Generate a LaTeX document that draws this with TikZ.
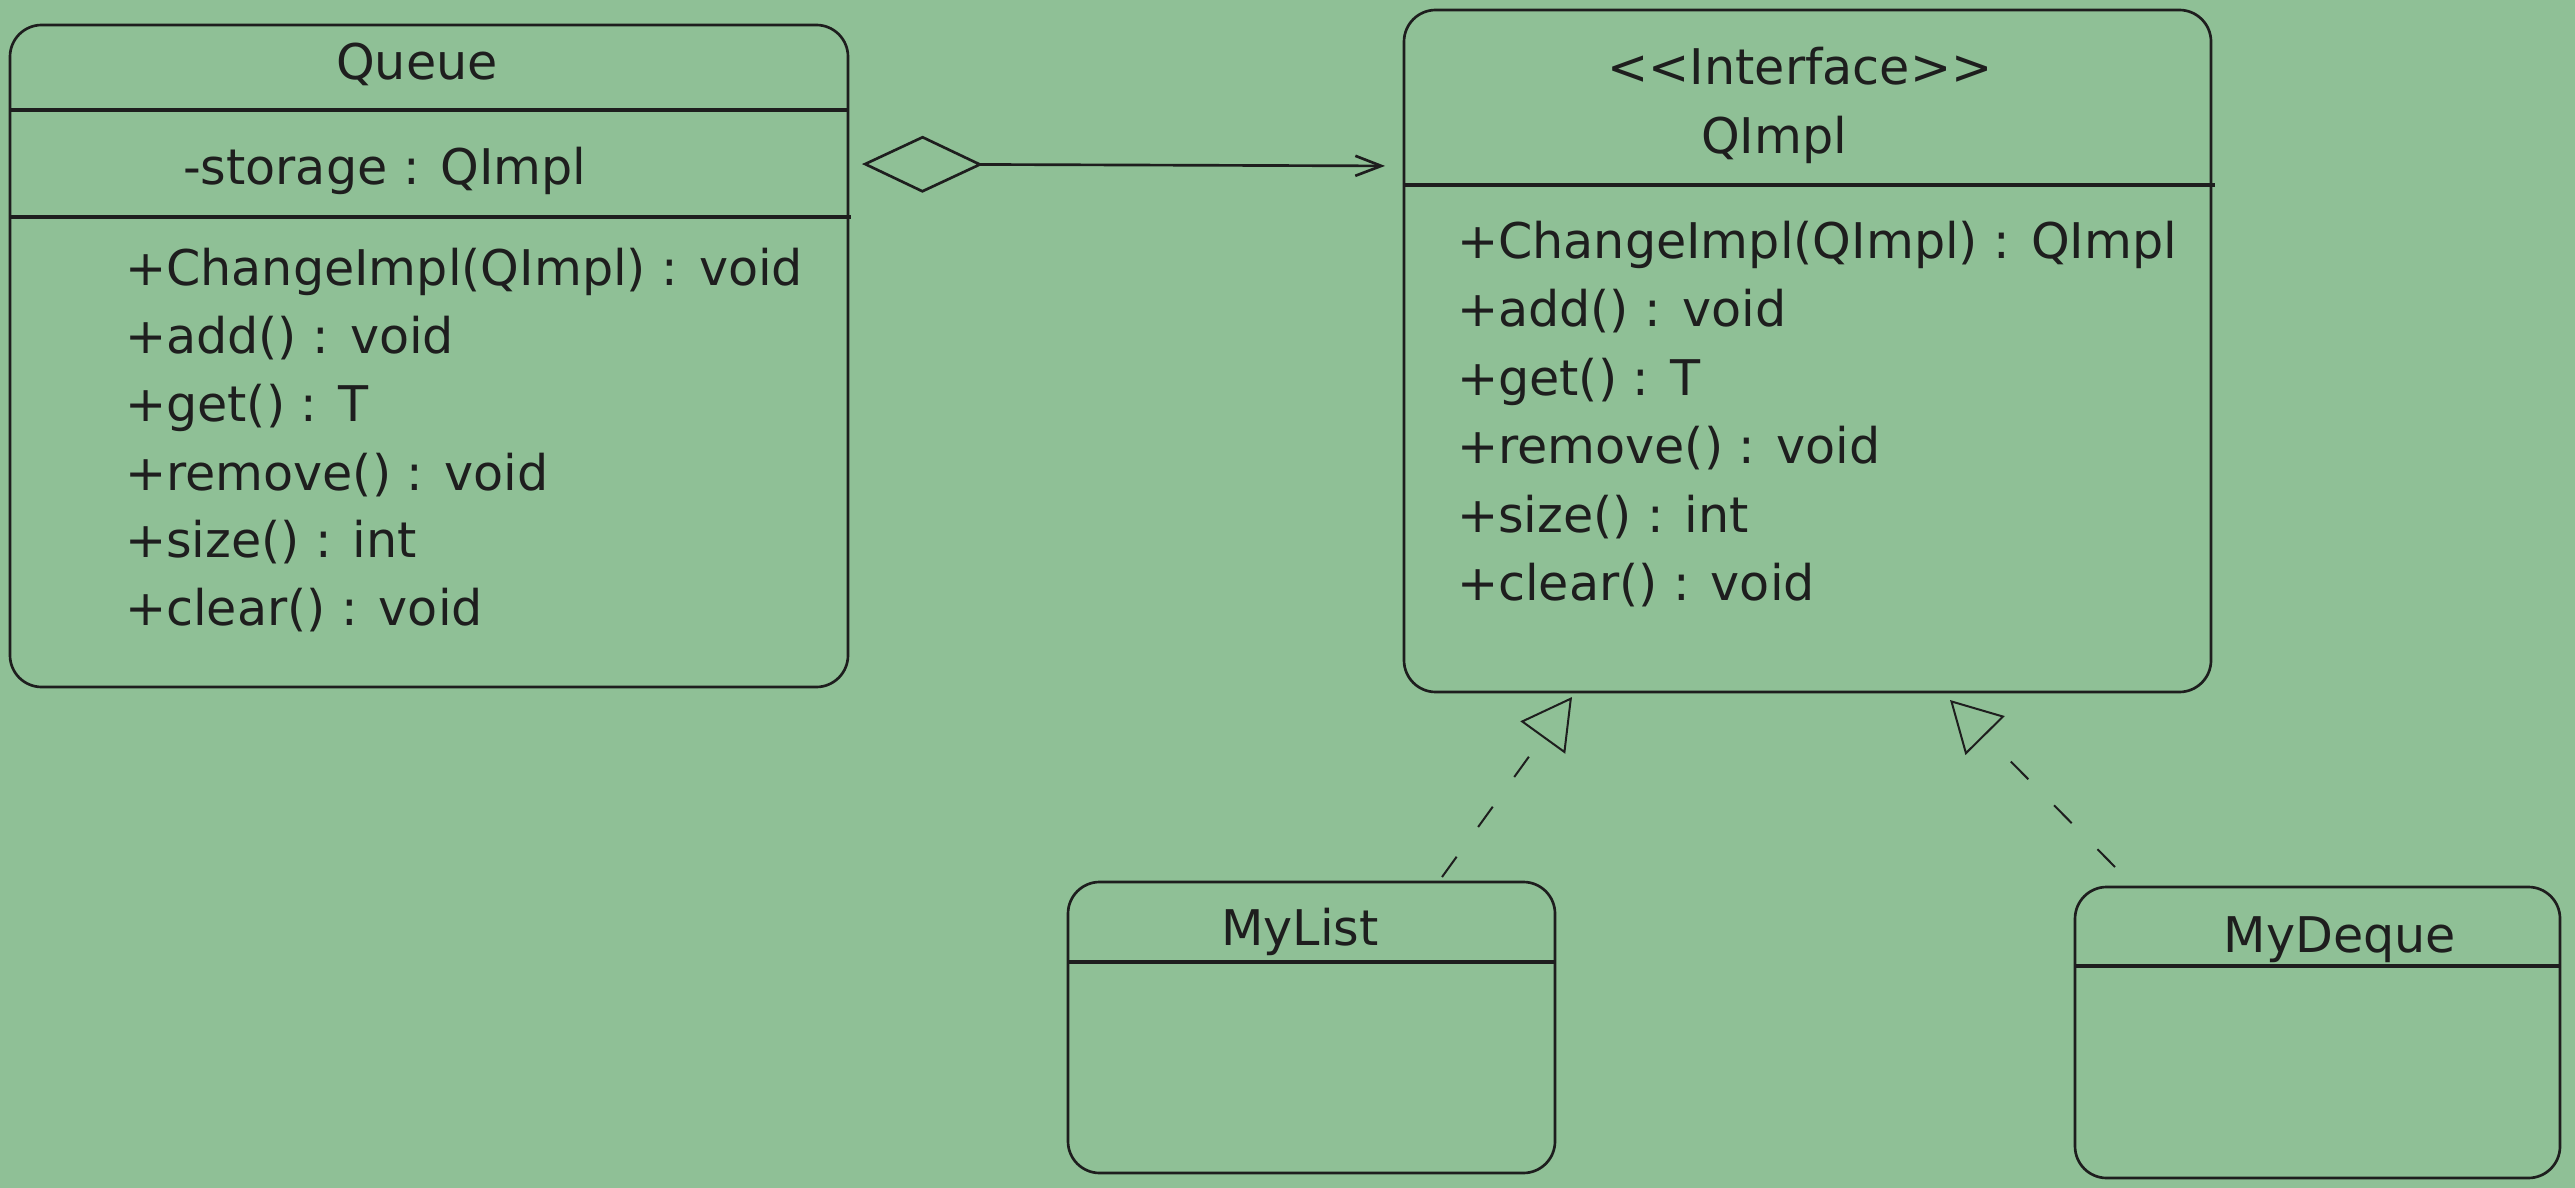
\documentclass[tikz,border=0pt]{standalone}
\usepackage{fontspec}
\setmainfont{DejaVu Sans}
\usetikzlibrary{arrows.meta}
\definecolor{bg}{RGB}{143,192,150}
\definecolor{ink}{HTML}{1E1E1E}
\begin{document}
\begin{tikzpicture}[x=0.3pt,y=-0.3pt,
  every node/.style={inner sep=0pt,outer sep=0pt,text=ink,font=\fontsize{14.75}{17}\selectfont},
  umlbox/.style={draw=ink,line width=0.8pt,rounded corners=9.5pt},
  sepline/.style={draw=ink,line width=1pt},
  txt/.style={anchor=base west},
  ctxt/.style={anchor=base},
  aggr/.style={draw=ink,line width=0.8pt,{Diamond[open,length=36.3pt,width=17.1pt,line width=0.8pt]}-{Straight Barb[length=7.8pt,width=6pt,line width=0.8pt]}},
  realize/.style={draw=ink,line width=0.6pt,dash pattern=on 7.5pt off 11pt,-{Triangle[open,length=15pt,width=16.5pt,line width=0.6pt]}}
]
\fill[bg] (0,0) rectangle (2575,1188);
\useasboundingbox (0,0) rectangle (2575,1188);

% boxes
\node[umlbox,minimum width=251.4pt,minimum height=198.6pt] (queue) at (429,356) {};
\node[umlbox,minimum width=242.1pt,minimum height=204.6pt] (qimpl) at (1807.5,351) {};
\node[umlbox,minimum width=146.1pt,minimum height=87.3pt] (mylist) at (1311.5,1027.5) {};
\node[umlbox,minimum width=145.5pt,minimum height=87.3pt] (mydeque) at (2317.5,1032.5) {};

% separators
\draw[sepline] (queue.west |- 0,110) -- (queue.east |- 0,110);
\draw[sepline] (queue.west |- 0,217) -- ([xshift=0.9pt]queue.east |- 0,217);
\draw[sepline] (qimpl.west |- 0,185) -- ([xshift=1.2pt]qimpl.east |- 0,185);
\draw[sepline] (mylist.west |- 0,962) -- (mylist.east |- 0,962);
\draw[sepline] (mydeque.west |- 0,966) -- (mydeque.east |- 0,966);

% Queue texts
\node[ctxt] (qtitle) at (417,80) {Queue};
\node[txt] (qattr) at (183,185) {-storage : QImpl};
\node[txt] (qm1) at (125,286) {+ChangeImpl(QImpl) : void};
\node[txt] (qm2) at (125,354) {+add() : void};
\node[txt] (qm3) at (125,422) {+get() : T};
\node[txt] (qm4) at (125,490) {+remove() : void};
\node[txt] (qm5) at (125,557) {+size() : int};
\node[txt] (qm6) at (125,625) {+clear() : void};

% QImpl texts
\node[ctxt] (istereo) at (1800,85) {{<}{<}Interface{>}{>}};
\node[txt] (ititle) at (1701,154) {QImpl};
\node[txt] (im1) at (1457,259) {+ChangeImpl(QImpl) : QImpl};
\node[txt] (im2) at (1457,327) {+add() : void};
\node[txt] (im3) at (1457,396) {+get() : T};
\node[txt] (im4) at (1457,464) {+remove() : void};
\node[txt] (im5) at (1457,532) {+size() : int};
\node[txt] (im6) at (1457,600) {+clear() : void};

% subclass titles
\node[ctxt] (ltitle) at (1300,945) {MyList};
\node[ctxt] (dtitle) at (2340,952) {MyDeque};

% connectors
\draw[aggr,shorten <=4.2pt,shorten >=5.7pt] ([yshift=-41.7pt]queue.north east) -- ([yshift=-46.8pt]qimpl.north west);
\draw[realize] ([xshift=39.15pt,yshift=1.5pt]mylist.north) -- ([xshift=-70.65pt,yshift=-1.5pt]qimpl.south);
\draw[realize] ([xshift=-60.75pt,yshift=6pt]mydeque.north) -- ([xshift=42.75pt,yshift=-2.4pt]qimpl.south);
\end{tikzpicture}
\end{document}
